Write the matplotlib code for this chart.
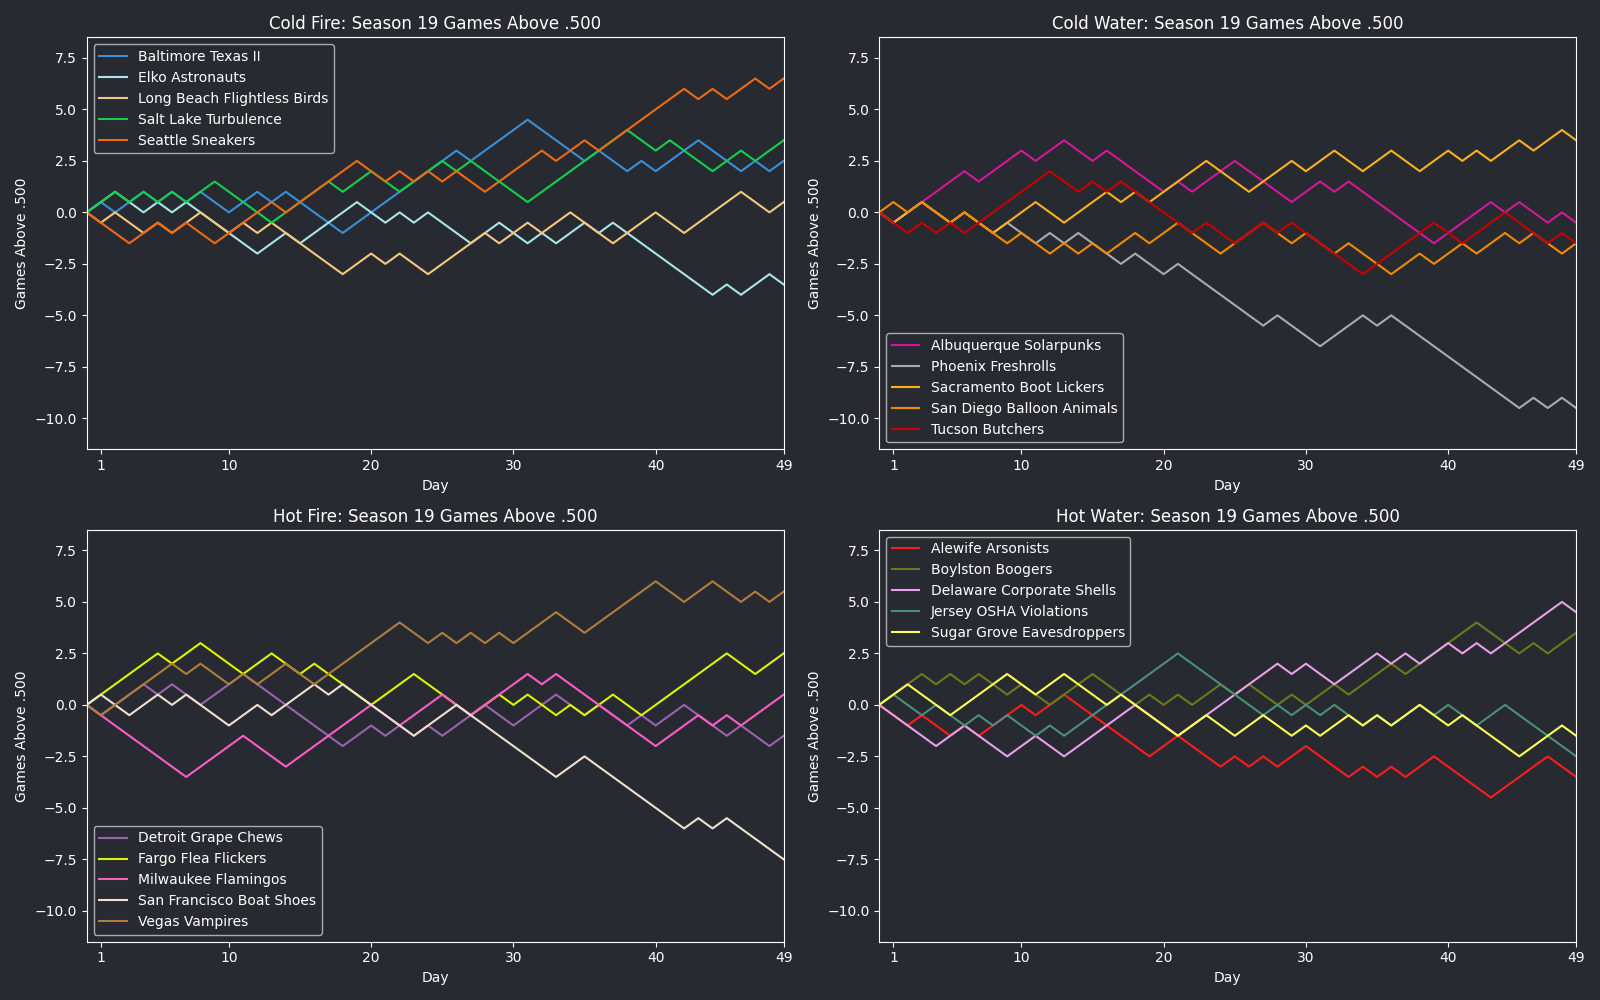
from matplotlib import pyplot as plt
import numpy as np

BG = "#272a30"
FG = "#ffffff"

days = np.arange(0, 50)

# Cold Fire
baltimore = [0, .5, 0, .5, 1, .5, 1, .5, 1, .5, 0, .5, 1, .5, 1, .5, 0, -.5, -1, -.5,
             0, .5, 1, 1.5, 2, 2.5, 3, 2.5, 3, 3.5, 4, 4.5, 4, 3.5, 3, 2.5, 3, 2.5, 2, 2.5,
             2, 2.5, 3, 3.5, 3, 2.5, 2, 2.5, 2, 2.5]
elko = [0, .5, 1, .5, 0, .5, 0, .5, 0, -.5, -1, -1.5, -2, -1.5, -1, -1.5, -1, -.5, 0, .5,
        0, -.5, 0, -.5, 0, -.5, -1, -1.5, -1, -.5, -1, -1.5, -1, -1.5, -1, -.5, -1, -.5, -1, -1.5,
        -2, -2.5, -3, -3.5, -4, -3.5, -4, -3.5, -3, -3.5]
long_beach = [0, -.5, 0, -.5, -1, -.5, -1, -.5, 0, -.5, -1, -.5, -1, -.5, -1, -1.5, -2, -2.5, -3, -2.5,
              -2, -2.5, -2, -2.5, -3, -2.5, -2, -1.5, -1, -1.5, -1, -.5, -1, -.5, 0, -.5, -1, -1.5, -1, -.5,
              0, -.5, -1, -.5, 0, .5, 1, .5, 0, .5]
salt_lake = [0, .5, 1, .5, 1, .5, 1, .5, 1, 1.5, 1, .5, 0, -.5, 0, .5, 1, 1.5, 1, 1.5,
             2, 1.5, 1, 1.5, 2, 2.5, 2, 2.5, 2, 1.5, 1, .5, 1, 1.5, 2, 2.5, 3, 3.5, 4, 3.5,
             3, 3.5, 3, 2.5, 2, 2.5, 3, 2.5, 3, 3.5]
seattle = [0, -.5, -1, -1.5, -1, -.5, -1, -.5, -1, -1.5, -1, -.5, 0, .5, 0, .5, 1, 1.5, 2, 2.5,
           2, 1.5, 2, 1.5, 2, 1.5, 2, 1.5, 1, 1.5, 2, 2.5, 3, 2.5, 3, 3.5, 3, 3.5, 4, 4.5,
           5, 5.5, 6, 5.5, 6, 5.5, 6, 6.5, 6, 6.5]

# Cold Water
albuquerque = [0, -.5, 0, .5, 1, 1.5, 2, 1.5, 2, 2.5, 3, 2.5, 3, 3.5, 3, 2.5, 3, 2.5, 2, 1.5,
               1, 1.5, 1, 1.5, 2, 2.5, 2, 1.5, 1, .5, 1, 1.5, 1, 1.5, 1, .5, 0, -.5, -1, -1.5,
               -1, -.5, 0, .5, 0, .5, 0, -.5, 0, -.5]
phoenix = [0, -.5, 0, .5, 0, -.5, 0, -.5, -1, -.5, -1, -1.5, -1, -1.5, -1, -1.5, -2, -2.5, -2, -2.5,
           -3, -2.5, -3, -3.5, -4, -4.5, -5, -5.5, -5, -5.5, -6, -6.5, -6, -5.5, -5, -5.5, -5, -5.5, -6, -6.5,
           -7, -7.5, -8, -8.5, -9, -9.5, -9, -9.5, -9, -9.5]
sacramento = [0, -.5, 0, .5, 0, -.5, 0, -.5, -1, -.5, 0, .5, 0, -.5, 0, .5, 1, .5, 1, .5,
              1, 1.5, 2, 2.5, 2, 1.5, 1, 1.5, 2, 2.5, 2, 2.5, 3, 2.5, 2, 2.5, 3, 2.5, 2, 2.5,
              3, 2.5, 3, 2.5, 3, 3.5, 3, 3.5, 4, 3.5]
san_diego = [0, .5, 0, .5, 0, -.5, 0, -.5, -1, -1.5, -1, -1.5, -2, -1.5, -2, -1.5, -2, -1.5, -1, -1.5,
             -1, -.5, -1, -1.5, -2, -1.5, -1, -.5, -1, -1.5, -1, -1.5, -2, -1.5, -2, -2.5, -3, -2.5, -2, -2.5,
             -2, -1.5, -2, -1.5, -1, -1.5, -1, -1.5, -2, -1.5]
tucson = [0, -.5, -1, -.5, -1, -.5, -1, -.5, 0, .5, 1, 1.5, 2, 1.5, 1, 1.5, 1, 1.5, 1, .5,
          0, -.5, -1, -.5, -1, -1.5, -1, -.5, -1, -.5, -1, -1.5, -2, -2.5, -3, -2.5, -2, -1.5, -1, -.5,
          -1, -1.5, -1, -.5, 0, -.5, -1, -1.5, -1, -1.5]

# Hot Fire
detroit = [0, -.5, 0, .5, 1, .5, 1, .5, 0, .5, 1, 1.5, 1, .5, 0, -.5, -1, -1.5, -2, -1.5,
           -1, -1.5, -1, -1.5, -1, -1.5, -1, -.5, 0, -.5, -1, -.5, 0, .5, 0, -.5, 0, -.5, -1, -.5,
           -1, -.5, 0, -.5, -1, -1.5, -1, -1.5, -2, -1.5]
fargo = [0, .5, 1, 1.5, 2, 2.5, 2, 2.5, 3, 2.5, 2, 1.5, 2, 2.5, 2, 1.5, 2, 1.5, 1, .5,
         0, .5, 1, 1.5, 1, .5, 0, -.5, 0, .5, 0, .5, 0, -.5, 0, -.5, 0, .5, 0, -.5,
         0, .5, 1, 1.5, 2, 2.5, 2, 1.5, 2, 2.5]
milwaukee = [0, -.5, -1, -1.5, -2, -2.5, -3, -3.5, -3, -2.5, -2, -1.5, -2, -2.5, -3, -2.5, -2, -1.5, -1, -.5,
             0, -.5, -1, -.5, 0, .5, 0, -.5, 0, .5, 1, 1.5, 1, 1.5, 1, .5, 0, -.5, -1, -1.5,
             -2, -1.5, -1, -.5, -1, -.5, -1, -.5, 0, .5]
san_francisco = [0, .5, 0, -.5, 0, .5, 0, .5, 0, -.5, -1, -.5, 0, -.5, 0, .5, 1, .5, 1, .5,
                 0, -.5, -1, -1.5, -1, -.5, 0, -.5, -1, -1.5, -2, -2.5, -3, -3.5, -3, -2.5, -3, -3.5, -4, -4.5,
                 -5, -5.5, -6, -5.5, -6, -5.5, -6, -6.5, -7, -7.5]
vegas = [0, -.5, 0, .5, 1, 1.5, 2, 1.5, 2, 1.5, 1, 1.5, 1, 1.5, 2, 1.5, 1, 1.5, 2, 2.5,
         3, 3.5, 4, 3.5, 3, 3.5, 3, 3.5, 3, 3.5, 3, 3.5, 4, 4.5, 4, 3.5, 4, 4.5, 5, 5.5,
         6, 5.5, 5, 5.5, 6, 5.5, 5, 5.5, 5, 5.5]

# Hot Water
alewife = [0, -.5, -1, -.5, -1, -1.5, -1, -1.5, -1, -.5, 0, -.5, 0, .5, 0, -.5, -1, -1.5, -2, -2.5,
           -2, -1.5, -2, -2.5, -3, -2.5, -3, -2.5, -3, -2.5, -2, -2.5, -3, -3.5, -3, -3.5, -3, -3.5, -3, -2.5,
           -3, -3.5, -4, -4.5, -4, -3.5, -3, -2.5, -3, -3.5]
boylston = [0, .5, 1, 1.5, 1, 1.5, 1, 1.5, 1, .5, 1, .5, 0, .5, 1, 1.5, 1, .5, 0, .5,
            0, .5, 0, .5, 1, .5, 1, .5, 0, .5, 0, .5, 1, .5, 1, 1.5, 2, 1.5, 2, 2.5,
            3, 3.5, 4, 3.5, 3, 2.5, 3, 2.5, 3, 3.5]
delaware = [0, -.5, -1, -1.5, -2, -1.5, -1, -1.5, -2, -2.5, -2, -1.5, -2, -2.5, -2, -1.5, -1, -.5, 0, -.5,
            -1, -1.5, -1, -.5, 0, .5, 1, 1.5, 2, 1.5, 2, 1.5, 1, 1.5, 2, 2.5, 2, 2.5, 2, 2.5,
            3, 2.5, 3, 2.5, 3, 3.5, 4, 4.5, 5, 4.5]
jersey = [0, .5, 0, -.5, 0, -.5, -1, -.5, -1, -.5, -1, -1.5, -1, -1.5, -1, -.5, 0, .5, 1, 1.5,
          2, 2.5, 2, 1.5, 1, .5, 0, -.5, 0, -.5, 0, -.5, 0, -.5, -1, -.5, -1, -.5, 0, -.5,
          0, -.5, -1, -.5, 0, -.5, -1, -1.5, -2, -2.5]
sugar_grove = [0, .5, 1, .5, 0, -.5, 0, .5, 1, 1.5, 1, .5, 1, 1.5, 1, .5, 0, .5, 0, -.5,
               -1, -1.5, -1, -.5, -1, -1.5, -1, -.5, -1, -1.5, -1, -1.5, -1, -.5, -1, -.5, -1, -.5, 0, -.5,
               -1, -.5, -1, -1.5, -2, -2.5, -2, -1.5, -1, -1.5]

divisions = [
    ("Cold Fire", "upper left",
     [("Baltimore Texas II", baltimore, "#3a8fd8"),
      ("Elko Astronauts", elko, "#a6e6e6"),
      ("Long Beach Flightless Birds", long_beach, "#f5c77e"),
      ("Salt Lake Turbulence", salt_lake, "#14d04c"),
      ("Seattle Sneakers", seattle, "#f06a14")]),
    ("Cold Water", "lower left",
     [("Albuquerque Solarpunks", albuquerque, "#d6169b"),
      ("Phoenix Freshrolls", phoenix, "#aaaaaa"),
      ("Sacramento Boot Lickers", sacramento, "#fdb022"),
      ("San Diego Balloon Animals", san_diego, "#f58a00"),
      ("Tucson Butchers", tucson, "#c80000")]),
    ("Hot Fire", "lower left",
     [("Detroit Grape Chews", detroit, "#9a62b0"),
      ("Fargo Flea Flickers", fargo, "#dcf400"),
      ("Milwaukee Flamingos", milwaukee, "#ff5cc8"),
      ("San Francisco Boat Shoes", san_francisco, "#efdfcf"),
      ("Vegas Vampires", vegas, "#b07d3e")]),
    ("Hot Water", "upper left",
     [("Alewife Arsonists", alewife, "#ff1c1c"),
      ("Boylston Boogers", boylston, "#6b7a1a"),
      ("Delaware Corporate Shells", delaware, "#e8a0e8"),
      ("Jersey OSHA Violations", jersey, "#4a9078"),
      ("Sugar Grove Eavesdroppers", sugar_grove, "#ffff55")]),
]

fig, axes = plt.subplots(2, 2, figsize=(16, 10), dpi=100)
fig.patch.set_facecolor(BG)

for ax, (div, loc, teams) in zip(axes.flat, divisions):
    ax.set_facecolor(BG)
    for name, vals, col in teams:
        ax.plot(days, vals, color=col, lw=1.5, label=name)
    ax.set_xlim(0, 49)
    ax.set_ylim(-11.5, 8.5)
    ax.set_xticks([1, 10, 20, 30, 40, 49])
    ax.set_yticks(np.arange(-10, 8, 2.5))
    ax.set_title(div + ": Season 19 Games Above .500", color=FG, fontsize=12)
    ax.set_xlabel("Day", color=FG)
    ax.set_ylabel("Games Above .500", color=FG)
    ax.tick_params(colors=FG, labelcolor=FG)
    for s in ax.spines.values():
        s.set_color(FG)
    leg = ax.legend(loc=loc, facecolor=BG, edgecolor="#aaaaaa", framealpha=1, fontsize=10)
    for t in leg.get_texts():
        t.set_color(FG)

plt.tight_layout()
plt.savefig("out.png", facecolor=BG)
plt.close()
